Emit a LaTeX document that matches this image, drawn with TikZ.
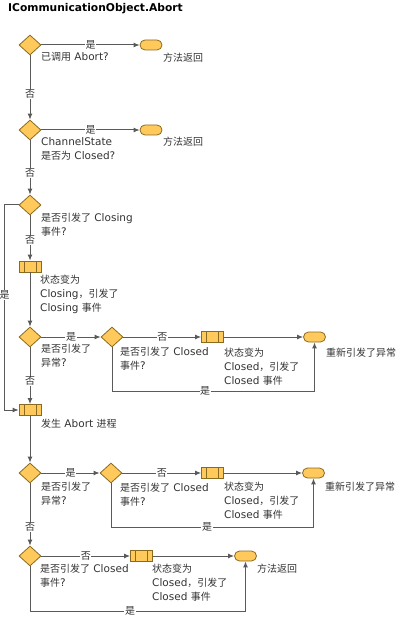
\documentclass[tikz,border=0pt]{standalone}
\usepackage{fontspec}
\setmainfont{DejaVu Sans}
\newfontfamily\cjkfont{Noto Sans CJK SC}[Scale=0.95]
\newcommand\zh[1]{{\cjkfont #1}}
\usetikzlibrary{shapes.geometric,arrows.meta,calc}
\definecolor{fillc}{HTML}{FFC95C}
\definecolor{edgec}{HTML}{8A6A1E}
\definecolor{linec}{HTML}{5A5A5A}
\definecolor{txtc}{HTML}{333333}
\begin{document}
\begin{tikzpicture}[x=1pt,y=-1pt,
 dec/.style={diamond,draw=edgec,fill=fillc,minimum width=22pt,minimum height=20pt,inner sep=0pt,line width=0.8pt},
 term/.style={rectangle,rounded corners=5pt,draw=edgec,fill=fillc,minimum width=22pt,minimum height=10pt,inner sep=0pt,line width=0.8pt},
 proc/.style={rectangle,draw=edgec,fill=fillc,minimum width=22pt,minimum height=11pt,inner sep=0pt,line width=0.8pt,
   path picture={\draw[edgec,line width=0.8pt]
     ([xshift=5pt]path picture bounding box.north west) -- ([xshift=5pt]path picture bounding box.south west)
     ([xshift=-5pt]path picture bounding box.north east) -- ([xshift=-5pt]path picture bounding box.south east);}},
 txt/.style={anchor=north west,inner sep=0pt,align=left,font=\fontsize{10.5}{14}\selectfont,text=txtc,yshift=-1.5pt},
 lbl/.style={fill=white,inner sep=0.6pt,font=\fontsize{10.5}{12}\selectfont\cjkfont,text=txtc},
 arr/.style={draw=linec,line width=1pt,-{Latex[length=6pt,width=5pt]}},
 ttl/.style={anchor=west,inner sep=0pt,font=\bfseries\fontsize{10.7}{13}\selectfont,text=black}]
\useasboundingbox (0,0) rectangle (400,617);
\node[ttl] (title) at (8,8.5) {ICommunicationObject.Abort};
% shapes
\node[dec] (d1) at (30,45) {};
\node[term] (t1) at (151,45) {};
\node[dec] (d2) at (30,130) {};
\node[term] (t2) at (151,130) {};
\node[dec] (d3) at (30,205) {};
\node[proc] (p1) at (30,266.5) {};
\node[dec] (d4) at (30,337) {};
\node[dec] (d5) at (112,337) {};
\node[proc] (p2) at (212.5,337) {};
\node[term] (t3) at (314.5,337) {};
\node[proc] (p3) at (30,410) {};
\node[dec] (d6) at (30,473) {};
\node[dec] (d7) at (111,473) {};
\node[proc] (p4) at (212.5,473) {};
\node[term] (t4) at (313.5,473) {};
\node[dec] (d8) at (30,556) {};
\node[proc] (p5) at (141.5,556) {};
\node[term] (t5) at (245.5,556) {};
% texts
\node[txt] (x1) at (41,51) {\zh{已调用} Abort?};
\node[txt] (x2) at (163,51) {\zh{方法返回}};
\node[txt] (x3) at (41,136) {ChannelState\\\zh{是否为} Closed?};
\node[txt] (x4) at (163,135) {\zh{方法返回}};
\node[txt] (x5) at (41,211) {\zh{是否引发了} Closing\\\zh{事件}?};
\node[txt] (x6) at (40,273) {\zh{状态变为}\\Closing\zh{，引发了}\\Closing \zh{事件}};
\node[txt] (x7) at (41,342) {\zh{是否引发了}\\\zh{异常}?};
\node[txt] (x8) at (120,345) {\zh{是否引发了} Closed\\\zh{事件}?};
\node[txt] (x9) at (224,346) {\zh{状态变为}\\Closed\zh{，引发了}\\Closed \zh{事件}};
\node[txt] (x10) at (326,346) {\zh{重新引发了异常}};
\node[txt] (x11) at (41,417) {\zh{发生} Abort \zh{进程}};
\node[txt] (x12) at (41,480) {\zh{是否引发了}\\\zh{异常}?};
\node[txt] (x13) at (120,481) {\zh{是否引发了} Closed\\\zh{事件}?};
\node[txt] (x14) at (224,480) {\zh{状态变为}\\Closed\zh{，引发了}\\Closed \zh{事件}};
\node[txt] (x15) at (325,480) {\zh{重新引发了异常}};
\node[txt] (x16) at (40,562) {\zh{是否引发了} Closed\\\zh{事件}?};
\node[txt] (x17) at (152,562) {\zh{状态变为}\\Closed\zh{，引发了}\\Closed \zh{事件}};
\node[txt] (x18) at (257,562) {\zh{方法返回}};
% connectors
\draw[arr] (d1.east) -- node[lbl]{是} (t1.west);
\draw[arr] (d1.south) -- node[lbl,pos=.6]{否} (d2.north);
\draw[arr] (d2.east) -- node[lbl]{是} (t2.west);
\draw[arr] (d2.south) -- node[lbl,pos=.6]{否} (d3.north);
\draw[arr] (d3.south) -- node[lbl,pos=.55]{否} (p1.north);
\draw[arr] (d3.west) -- ++(-14,0) |- node[lbl,pos=.22]{是} (p3.west);
\draw[arr] (p1.south) -- (d4.north);
\draw[arr] (d4.east) -- node[lbl]{是} (d5.west);
\draw[arr] (d5.east) -- node[lbl]{否} (p2.west);
\draw[arr] (p2.east) -- (t3.west);
\draw[arr] (d5.south) -- ++(0,44) -| node[lbl,pos=.23]{是} (t3.south);
\draw[arr] (d4.south) -- node[lbl,pos=.6]{否} (p3.north);
\draw[arr] (p3.south) -- (d6.north);
\draw[arr] (d6.east) -- node[lbl]{是} (d7.west);
\draw[arr] (d7.east) -- node[lbl]{否} (p4.west);
\draw[arr] (p4.east) -- (t4.west);
\draw[arr] (d7.south) -- ++(0,44) -| node[lbl,pos=.237]{是} (t4.south);
\draw[arr] (d6.south) -- node[lbl,pos=.7]{否} (d8.north);
\draw[arr] (d8.east) -- node[lbl]{否} (p5.west);
\draw[arr] (p5.east) -- (t5.west);
\draw[arr] (d8.south) -- ++(0,45) -| node[lbl,pos=.232]{是} (t5.south);
\end{tikzpicture}
\end{document}
